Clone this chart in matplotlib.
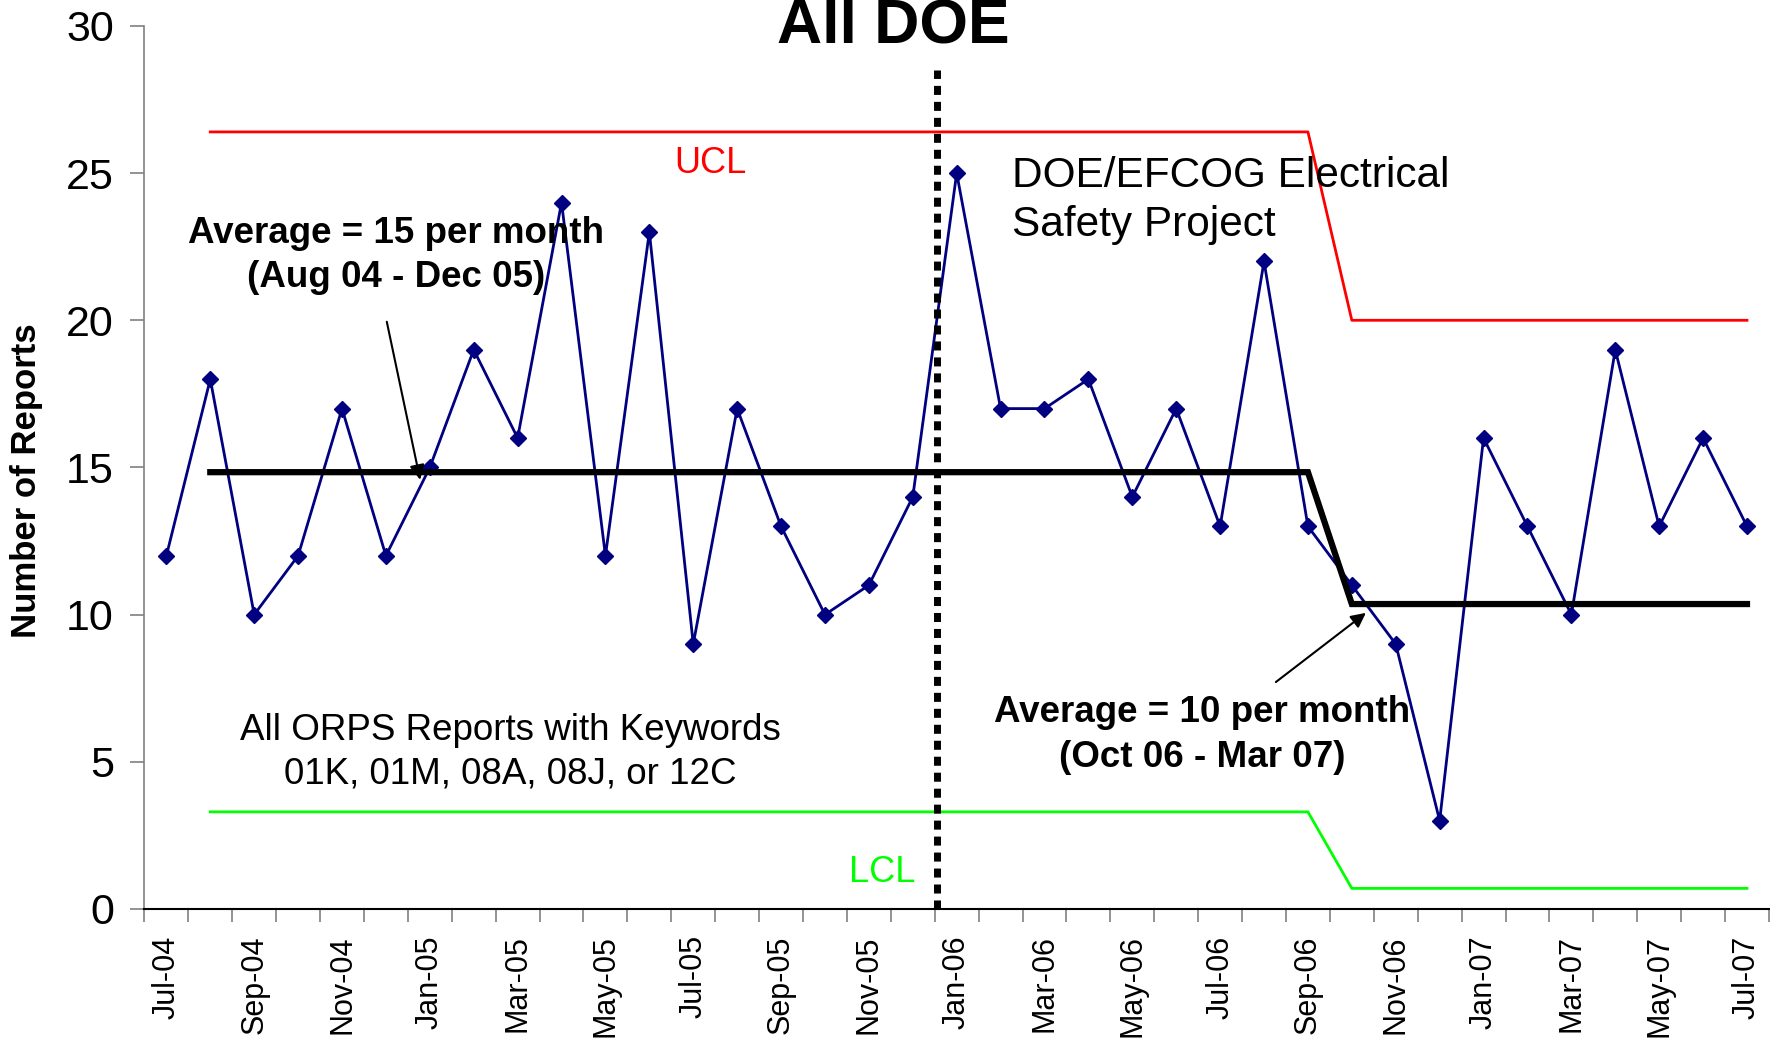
import numpy as np
import matplotlib
matplotlib.use("Agg")
import matplotlib.pyplot as plt

plt.rcParams['font.family'] = ['Liberation Sans', 'DejaVu Sans']

# --- Data ---
months = ["Jul-04", "Aug-04", "Sep-04", "Oct-04", "Nov-04", "Dec-04",
          "Jan-05", "Feb-05", "Mar-05", "Apr-05", "May-05", "Jun-05",
          "Jul-05", "Aug-05", "Sep-05", "Oct-05", "Nov-05", "Dec-05",
          "Jan-06", "Feb-06", "Mar-06", "Apr-06", "May-06", "Jun-06",
          "Jul-06", "Aug-06", "Sep-06", "Oct-06", "Nov-06", "Dec-06",
          "Jan-07", "Feb-07", "Mar-07", "Apr-07", "May-07", "Jun-07",
          "Jul-07"]
reports = [12, 18, 10, 12, 17, 12, 15, 19, 16, 24, 12, 23,
           9, 17, 13, 10, 11, 14, 25, 17, 17, 18, 14, 17,
           13, 22, 13, 11, 9, 3, 16, 13, 10, 19, 13, 16, 13]

# control-chart levels: before / after the project (phase change at Oct-06)
avg_levels = [14.84, 10.36]
ucl_levels = [26.4, 20.0]
lcl_levels = [3.3, 0.7]
phase1_months = ("Aug-04", "Sep-06")
phase2_months = ("Oct-06", "Jul-07")
project_start = 17.55  # between Dec-05 and Jan-06

x = np.arange(len(months))
i0 = months.index(phase1_months[0])
i1 = months.index(phase1_months[1])
i2 = months.index(phase2_months[0])
i3 = months.index(phase2_months[1])
step_x = np.arange(i0, i3 + 1)


def step_series(levels):
    return np.where(step_x <= i1, levels[0], levels[1])


fig = plt.figure(figsize=(17.7, 10.38), dpi=100)
ax = fig.add_axes([0.0816, 0.1243, 0.9178, 0.8507])

ax.plot(step_x, step_series(ucl_levels), color='#ff0000', lw=2.0, zorder=2)
ax.plot(step_x, step_series(lcl_levels), color='#00ff00', lw=2.0, zorder=2)
ax.plot(x, reports, color='#000080', lw=2.0, marker='D', markersize=8.5,
        zorder=3)
ax.plot(step_x, step_series(avg_levels), color='black', lw=4.5,
        solid_joinstyle='miter', zorder=4)
ax.plot([project_start, project_start], [0, 28.5], color='black', lw=5,
        linestyle=(0, (1.3, 1.0)), zorder=5)

# --- Axes formatting ---
ax.set_xlim(-0.5, len(months) - 0.5)
ax.set_ylim(0, 30)
ax.set_yticks(np.arange(0, 31, 5))
ax.set_xticks(np.arange(-0.5, len(months), 1.0))
ax.set_xticklabels([])
ax.set_xticks(x[::2], minor=True)
ax.set_xticklabels(months[::2], minor=True, rotation=90, fontsize=22)
ax.tick_params(axis='x', which='major', length=9, color='#808080', width=1.2,
               direction='out')
ax.tick_params(axis='x', which='minor', length=0, pad=19)
ax.tick_params(axis='y', length=10, color='#808080', width=1.2, pad=12,
               labelsize=31)
for s in ('top', 'right'):
    ax.spines[s].set_visible(False)
ax.spines['left'].set_color('#808080')
ax.spines['left'].set_linewidth(1.2)
ax.spines['bottom'].set_color('black')
ax.spines['bottom'].set_linewidth(1.5)

ax.set_ylabel("Number of Reports", fontsize=25, fontweight='bold',
              labelpad=0)
ax.yaxis.set_label_coords(-0.0625, 0.485)

fig.text(0.5045, 0.9586, "All DOE", fontsize=45, fontweight='bold',
         ha='center', va='baseline')

# --- Annotations ---
dy = -0.13
ax.text(5.23, 23.07 + dy, "Average = 15 per month", fontsize=26.5,
        fontweight='bold', ha='center', va='center')
ax.text(5.23, 21.58 + dy, "(Aug 04 - Dec 05)", fontsize=26.5,
        fontweight='bold', ha='center', va='center')
ax.annotate("", xy=(5.78, 14.58), xytext=(5.02, 19.95),
            arrowprops=dict(arrowstyle='-|>', color='black', lw=1.5,
                            mutation_scale=22, shrinkA=0, shrinkB=0))

ax.text(23.59, 6.80 + dy, "Average = 10 per month", fontsize=26.5,
        fontweight='bold', ha='center', va='center')
ax.text(23.59, 5.27 + dy, "(Oct 06 - Mar 07)", fontsize=26.5,
        fontweight='bold', ha='center', va='center')
ax.annotate("", xy=(27.32, 10.06), xytext=(25.27, 7.71),
            arrowprops=dict(arrowstyle='-|>', color='black', lw=1.5,
                            mutation_scale=22, shrinkA=0, shrinkB=0))

ax.text(19.27, 25.02 + dy, "DOE/EFCOG Electrical", fontsize=30.5,
        ha='left', va='center')
ax.text(19.27, 23.37 + dy, "Safety Project", fontsize=30.5,
        ha='left', va='center')

ax.text(7.83, 6.18 + dy, "All ORPS Reports with Keywords", fontsize=26.5,
        ha='center', va='center')
ax.text(7.83, 4.72 + dy, "01K, 01M, 08A, 08J, or 12C", fontsize=26.5,
        ha='center', va='center')

ax.text(12.40, 25.45 + dy, "UCL", fontsize=26, color='#ff0000',
        ha='center', va='center')
ax.text(16.30, 1.36 + dy, "LCL", fontsize=26, color='#00ff00',
        ha='center', va='center')

fig.savefig("out.png", dpi=100)
